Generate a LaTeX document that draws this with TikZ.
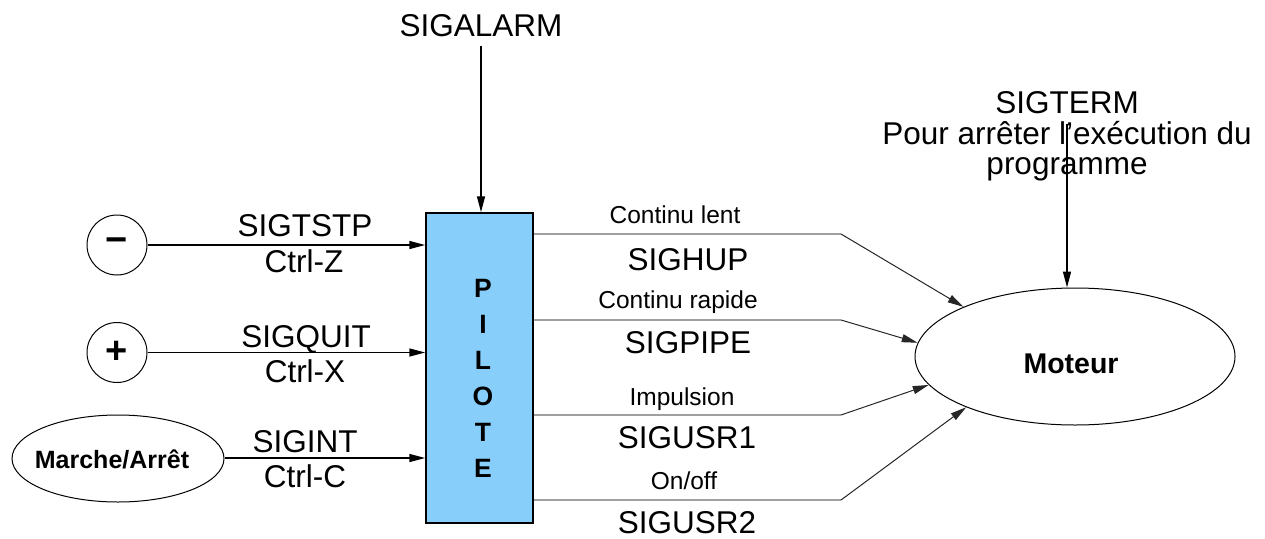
\documentclass[tikz,border=0pt]{standalone}
\usepackage{fontspec}
\setmainfont{Liberation Sans}
\usetikzlibrary{arrows.meta,shapes.geometric}

\definecolor{piloteblue}{RGB}{135,206,250}
\definecolor{outgray}{RGB}{160,160,160}

\tikzset{
  big/.style={font=\fontsize{31.5}{36}\selectfont, inner sep=0pt, anchor=base},
  small/.style={font=\fontsize{24.5}{28}\selectfont, inner sep=0pt, anchor=base},
  arr/.style={line width=1.5pt, -{Triangle[length=16pt,width=8pt]}},
  outline/.style={draw=outgray, line width=2.5pt},
  diag/.style={draw=black!85, line width=1pt, -{Triangle[length=16pt,width=8pt]}},
  keycircle/.style={circle, draw, line width=1pt, minimum size=60pt, inner sep=0pt,
    font=\fontsize{38}{40}\selectfont\bfseries},
  oval/.style={ellipse, draw, line width=1pt, inner sep=0pt}
}

\begin{document}
\begin{tikzpicture}[x=1pt, y=-1pt]
\useasboundingbox (0,0) rectangle (1265,538);

% Pilot block (letters stacked, base anchor sits on the last line)
\node[draw, line width=1.5pt, fill=piloteblue, minimum width=107pt, minimum height=310pt,
      inner sep=0pt] (pilote) at (479.5,368) {};
\node[font=\fontsize{26.5}{36}\selectfont\bfseries, align=center, inner sep=0pt,
      anchor=base] (pilotetxt) at (483,477) {P\\I\\L\\O\\T\\E};

% Input keys
\node[keycircle] (moins) at (117,245) {−};
\node[keycircle] (plus) at (117,352.5) {+};
\node[oval, minimum width=212pt, minimum height=87pt] (marche) at (118,458.5) {};
\node[font=\fontsize{25}{28}\selectfont\bfseries, inner sep=0pt, anchor=base]
      (marchetxt) at (112,468) {Marche/Arrêt};

\draw[arr] (moins) -- (moins -| pilote.west);
\draw[arr] (plus) -- (plus -| pilote.west);
\draw[arr] (marche.east |- 0,458) -- (pilote.west |- 0,458);

\node[big] (sigtstp) at (305,236) {SIGTSTP};
\node[big] (ctrlz) at (304,272) {Ctrl-Z};
\node[big] (sigquit) at (306,347) {SIGQUIT};
\node[big] (ctrlx) at (305,382) {Ctrl-X};
\node[big] (sigint) at (305,452) {SIGINT};
\node[big] (ctrlc) at (305,487) {Ctrl-C};

% Alarm signal
\node[big] (sigalarm) at (481,36) {SIGALARM};
\draw[arr, shorten <=9pt] (sigalarm.south) -- (sigalarm.south |- pilote.north);

% Motor
\node[oval, minimum width=320pt, minimum height=137pt] (moteur) at (1075,356.5) {};
\node[font=\fontsize{28.5}{32}\selectfont\bfseries, inner sep=0pt, anchor=base]
      (moteurtxt) at (1071,373) {Moteur};

% Output commands
\coordinate (c1) at (841,234);
\coordinate (c2) at (841,320);
\coordinate (c3) at (841,415);
\coordinate (c4) at (841,500);
\draw[outline] (pilote.east |- c1) -- (c1);
\draw[outline] (pilote.east |- c2) -- (c2);
\draw[outline] (pilote.east |- c3) -- (c3);
\draw[outline] (pilote.east |- c4) -- (c4);
\draw[diag] (c1) -- (moteur.156);
\draw[diag] (c2) -- (moteur.175);
\draw[diag] (c3) -- (moteur.191);
\draw[diag] (c4) -- (moteur.205);

\node[small] (lent) at (675,223) {Continu lent};
\node[big] (sighup) at (688,270) {SIGHUP};
\node[small] (rapide) at (678,308) {Continu rapide};
\node[big] (sigpipe) at (688,353) {SIGPIPE};
\node[small] (impulsion) at (682,405) {Impulsion};
\node[big] (sigusr1) at (687,448) {SIGUSR1};
\node[small] (onoff) at (684,489) {On/off};
\node[big] (sigusr2) at (687,533) {SIGUSR2};

% Termination signal
\node[big] (sigterm) at (1067,113) {SIGTERM};
\node[big] (pour) at (1067,144) {Pour arrêter l'exécution du};
\node[big] (programme) at (1067,174) {programme};
\draw[arr, shorten <=10pt] (sigterm.south) -- (sigterm.south |- moteur.north);

\end{tikzpicture}
\end{document}
